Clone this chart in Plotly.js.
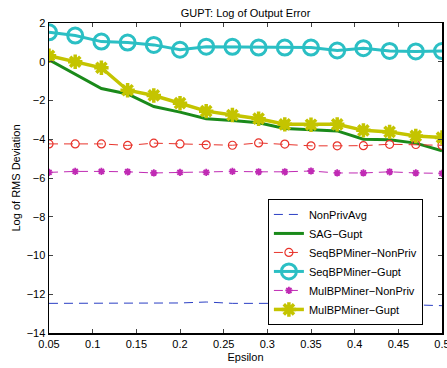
<!DOCTYPE html>
<html><head><meta charset="utf-8">
<script src="https://cdn.plot.ly/plotly-3.0.1.min.js"></script>
<style>html,body{margin:0;padding:0;background:#fff}#chart{width:447px;height:368px}</style>
</head><body><div id="chart"></div>
<script>
const epsilon = [0.05,0.08,0.11,0.14,0.17,0.20,0.23,0.26,0.29,0.32,0.35,0.38,0.41,0.44,0.47,0.50];
const nonPrivAvg = [-12.47,-12.47,-12.48,-12.47,-12.46,-12.45,-12.40,-12.47,-12.47,-12.48,-12.48,-12.47,-12.47,-12.50,-12.55,-12.59];
const sagGupt = [0.10,-0.65,-1.38,-1.66,-2.31,-2.60,-2.94,-3.03,-3.15,-3.44,-3.49,-3.57,-4.00,-4.03,-4.20,-4.60];
const seqNonPriv = [-4.24,-4.24,-4.24,-4.32,-4.20,-4.24,-4.29,-4.31,-4.19,-4.25,-4.34,-4.34,-4.33,-4.26,-4.27,-4.31];
const seqGupt = [1.52,1.35,1.04,0.99,0.87,0.62,0.78,0.77,0.73,0.73,0.73,0.58,0.70,0.56,0.53,0.55];
const mulNonPriv = [-5.71,-5.66,-5.66,-5.68,-5.74,-5.71,-5.71,-5.66,-5.68,-5.68,-5.64,-5.74,-5.74,-5.68,-5.74,-5.76];
const mulGupt = [0.31,0.00,-0.31,-1.47,-1.74,-2.14,-2.55,-2.75,-2.94,-3.23,-3.25,-3.23,-3.54,-3.62,-3.83,-3.91];
const xTicks = [0.05,0.1,0.15,0.2,0.25,0.3,0.35,0.4,0.45,0.5];
const yTicks = [2,0,-2,-4,-6,-8,-10,-12,-14];

const traces = [
  {x: epsilon, y: nonPrivAvg, name: 'NonPrivAvg', mode: 'lines', line: {color: '#2b3fc4', width: 1, dash: '9px,6px'}},
  {x: epsilon, y: sagGupt, name: 'SAG\u2212Gupt', mode: 'lines', line: {color: '#1a8a1a', width: 3}},
  {x: epsilon, y: seqNonPriv, name: 'SeqBPMiner\u2212NonPriv', mode: 'lines+markers', line: {color: '#e8332b', width: 1, dash: '9px,6px'}, marker: {symbol: 'circle-open', size: 8, color: '#e8332b', line: {width: 1.2}}},
  {x: epsilon, y: seqGupt, name: 'SeqBPMiner\u2212Gupt', mode: 'lines+markers', line: {color: '#2bbfc4', width: 3}, marker: {symbol: 'circle-open', size: 15, color: '#2bbfc4', line: {width: 3}}},
  {x: epsilon, y: mulNonPriv, name: 'MulBPMiner\u2212NonPriv', mode: 'lines+markers', line: {color: '#c02bb4', width: 1, dash: '9px,6px'}, marker: {symbol: 'asterisk-open', size: 6, color: '#c02bb4', line: {width: 1.8, color: '#c02bb4'}}},
  {x: epsilon, y: mulGupt, name: 'MulBPMiner\u2212Gupt', mode: 'lines+markers', line: {color: '#c4c400', width: 3.5}, marker: {symbol: 'asterisk-open', size: 12, color: '#c4c400', line: {width: 3.5, color: '#c4c400'}}}
];

const layout = {
  width: 447, height: 368,
  margin: {l: 49, r: 5, t: 23, b: 35},
  paper_bgcolor: '#fff', plot_bgcolor: '#fff',
  font: {family: 'Liberation Sans, Arial, sans-serif', size: 11, color: '#000'},
  title: {text: 'GUPT: Log of Output Error', xref: 'paper', x: 0.5, xanchor: 'center', yref: 'container', y: 0.965, yanchor: 'middle', font: {size: 11}},
  xaxis: {range: [0.05, 0.5], tickvals: xTicks, ticktext: xTicks.map(String), ticklabeloverflow: 'allow', ticks: 'inside', ticklen: 4, showline: true, mirror: 'ticks', linecolor: '#000', linewidth: 1.5, showgrid: false, zeroline: false,
          title: {text: 'Epsilon', standoff: 4, font: {size: 11}}},
  yaxis: {range: [-14, 2], tickvals: yTicks, ticks: 'inside', ticklen: 4, showline: true, mirror: 'ticks', linecolor: '#000', linewidth: 1.5, showgrid: false, zeroline: false,
          title: {text: 'Log of RMS Deviation', standoff: 4, font: {size: 11}}},
  legend: {x: 0.557, y: 0.026, xanchor: 'left', yanchor: 'bottom', bgcolor: '#fff', bordercolor: '#000', borderwidth: 1, font: {size: 11}, tracegroupgap: 0, itemwidth: 30},
  showlegend: true
};
Plotly.newPlot('chart', traces, layout, {displayModeBar: false, staticPlot: true});
</script></body></html>
